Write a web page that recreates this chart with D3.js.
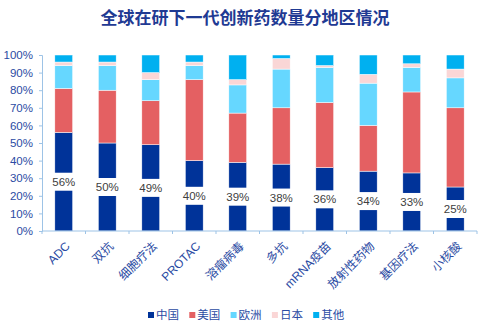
<!DOCTYPE html>
<html>
<head>
<meta charset="utf-8">
<script src="https://cdn.jsdelivr.net/npm/d3@7"></script>
<style>
  body { margin: 0; background: #fff; }
  svg { display: block; font-family: "Liberation Sans", "Noto Sans CJK SC", sans-serif; }
</style>
</head>
<body>
<script>
// categories and share by region (percent)
const categories = ["ADC", "双抗", "细胞疗法", "PROTAC", "溶瘤病毒", "多抗", "mRNA疫苗", "放射性药物", "基因疗法", "小核酸"];
const china  = [56, 50, 49, 40, 39, 38, 36, 34, 33, 25];
const usa    = [25, 30, 25, 46, 28, 32, 37, 26, 46, 45];
const europe = [13, 14, 12,  8, 16, 22, 20, 24, 14, 17];
const japan  = [ 2,  2,  4,  2,  3,  6,  1,  5,  2,  5];
const other  = [ 4,  4, 10,  4, 14,  2,  6, 11,  5,  8];
const regions = ["中国", "美国", "欧洲", "日本", "其他"];
const colors = ["#003399", "#E46062", "#66D7FF", "#FAD6D6", "#00B0F0"];
const yTicks = [0, 10, 20, 30, 40, 50, 60, 70, 80, 90, 100];

const width = 489, height = 328;
const plotLeft = 42, plotRight = 477, plotTop = 55, plotBottom = 231;
const textBlue = "#2B4BA3";

const svg = d3.select("body").append("svg")
  .attr("width", width)
  .attr("height", height);

// title
svg.append("text")
  .attr("x", 245)
  .attr("y", 24)
  .attr("text-anchor", "middle")
  .style("font-family", "'Noto Sans CJK SC', sans-serif")
  .style("font-size", "17px")
  .style("font-weight", "bold")
  .style("fill", "#1F3A93")
  .text("全球在研下一代创新药数量分地区情况");

const x = d3.scaleBand()
  .domain(categories)
  .range([plotLeft, plotRight])
  .paddingInner(0.59)
  .paddingOuter(0.295);

const y = d3.scaleLinear()
  .domain([0, 100])
  .range([plotBottom, plotTop]);

// build stacked table
const rows = categories.map((c, i) => ({
  cat: c, 中国: china[i], 美国: usa[i], 欧洲: europe[i], 日本: japan[i], 其他: other[i]
}));
const series = d3.stack().keys(regions)(rows);

svg.append("g")
  .selectAll("g")
  .data(series)
  .join("g")
  .attr("fill", (d, i) => colors[i])
  .selectAll("rect")
  .data(d => d)
  .join("rect")
  .attr("x", d => x(d.data.cat))
  .attr("y", d => y(d[1]))
  .attr("width", x.bandwidth())
  .attr("height", d => y(d[0]) - y(d[1]))
  .attr("stroke", "#ffffff")
  .attr("stroke-width", 0.5);

// y axis
const yAxis = svg.append("g")
  .attr("transform", `translate(${plotLeft},0)`)
  .call(d3.axisLeft(y).tickValues(yTicks).tickSize(3).tickFormat(d => d + "%"));
yAxis.select(".domain").attr("stroke", "#9DC3E6");
yAxis.selectAll("line").attr("stroke", "#9DC3E6");
yAxis.selectAll("text")
  .attr("x", -9)
  .style("font-size", "11.5px")
  .style("fill", textBlue);

// x axis with ticks on band edges
const xAxis = svg.append("g")
  .attr("transform", `translate(0,${plotBottom})`);
xAxis.append("line")
  .attr("x1", plotLeft).attr("x2", plotRight)
  .attr("stroke", "#9DC3E6");
const step = x.step();
xAxis.selectAll(".tick")
  .data(d3.range(categories.length + 1))
  .join("line")
  .attr("class", "tick")
  .attr("x1", i => plotLeft + i * step)
  .attr("x2", i => plotLeft + i * step)
  .attr("y1", 0).attr("y2", 3)
  .attr("stroke", "#9DC3E6");

xAxis.selectAll(".cat")
  .data(categories)
  .join("text")
  .attr("class", "cat")
  .attr("transform", d => `translate(${x(d) + x.bandwidth() / 2 + 4},${13}) rotate(-45)`)
  .attr("text-anchor", "end")
  .attr("dy", "0.35em")
  .style("font-size", "12px")
  .style("fill", textBlue)
  .text(d => d);

// China share labels with white backing
const labels = svg.append("g")
  .selectAll("g")
  .data(categories)
  .join("g")
  .attr("transform", (d, i) => `translate(${x(d) + x.bandwidth() / 2},${y(china[i] / 2)})`);
labels.append("rect")
  .attr("x", -14)
  .attr("y", -9)
  .attr("width", 28)
  .attr("height", 18)
  .attr("fill", "#ffffff");
labels.append("text")
  .attr("text-anchor", "middle")
  .attr("dy", "0.36em")
  .style("font-size", "11.5px")
  .style("fill", "#404040")
  .text((d, i) => china[i] + "%");

// legend
const legend = svg.append("g")
  .selectAll("g")
  .data(regions)
  .join("g")
  .attr("transform", (d, i) => `translate(${148 + i * 41.3},315)`);
legend.append("rect")
  .attr("x", 0).attr("y", -3)
  .attr("width", 6).attr("height", 6)
  .attr("fill", (d, i) => colors[i]);
legend.append("text")
  .attr("x", 8)
  .attr("dy", "0.36em")
  .style("font-family", "'Noto Sans CJK SC', sans-serif")
  .style("font-size", "11.5px")
  .style("fill", textBlue)
  .text(d => d);
</script>
</body>
</html>
